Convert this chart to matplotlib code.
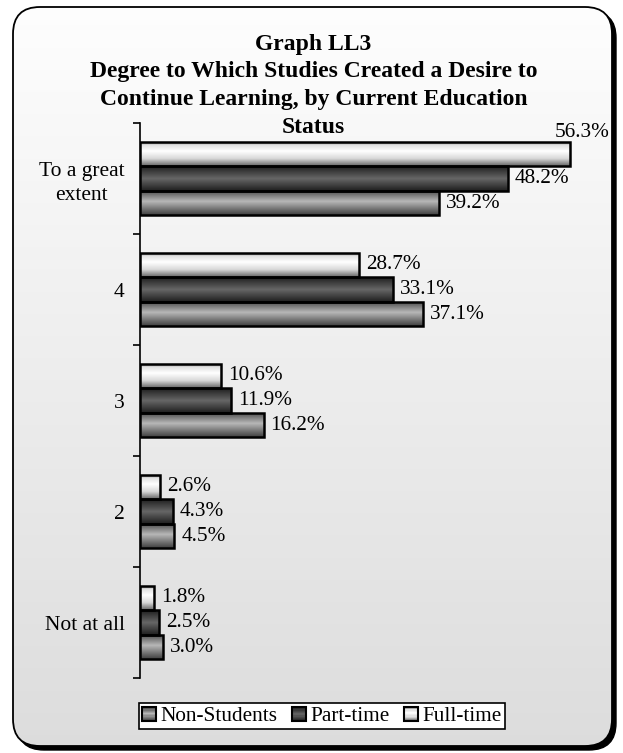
import matplotlib
matplotlib.use("Agg")
import matplotlib.pyplot as plt
import numpy as np
from matplotlib.patches import FancyBboxPatch, Rectangle

plt.rcParams['font.family'] = ['Liberation Serif', 'DejaVu Serif']

# data (bottom to top)
categories = ["Not at all", "2", "3", "4", "To a great\nextent"]
full_time = [1.8, 2.6, 10.6, 28.7, 56.3]
part_time = [2.5, 4.3, 11.9, 33.1, 48.2]
non_students = [3.0, 4.5, 16.2, 37.1, 39.2]
title = ("Graph LL3\nDegree to Which Studies Created a Desire to\n"
         "Continue Learning, by Current Education\nStatus")

# gray profiles for the cylinder shading: (t from bottom, gray level)
prof_full = ([0, 0.3, 0.6, 0.85, 1], [0.40, 0.85, 1.0, 0.88, 0.35])
prof_part = ([0, 0.5, 1], [0.12, 0.40, 0.12])
prof_non = ([0, 0.55, 1], [0.25, 0.72, 0.28])


def grad_img(prof, n=64):
    t = np.linspace(0, 1, n)
    g = np.interp(t, prof[0], prof[1])
    return np.repeat(g[:, None, None], 3, axis=2) * np.ones((n, 2, 3))


class GradHandler:
    def __init__(self, prof):
        self.prof = prof

    def legend_artist(self, legend, orig_handle, fontsize, handlebox):
        x0, y0 = handlebox.xdescent, handlebox.ydescent
        w, h = handlebox.width, handlebox.height
        n = 12
        t = np.linspace(0, 1, n)
        g = np.interp(t, self.prof[0], self.prof[1])
        tr = handlebox.get_transform()
        for i in range(n):
            r = Rectangle((x0, y0 + i * h / n), w, h / n + 0.3, facecolor=(g[i],) * 3,
                          edgecolor='none', transform=tr)
            handlebox.add_artist(r)
        border = Rectangle((x0, y0), w, h, facecolor='none', edgecolor='black',
                           linewidth=1.5, transform=tr)
        handlebox.add_artist(border)
        return border


fig = plt.figure(figsize=(6.23, 7.53), dpi=100)
fig.patch.set_facecolor('white')

# background rounded panel with gradient
bg = fig.add_axes([0, 0, 1, 1], zorder=-1)
bg.set_xlim(0, 623)
bg.set_ylim(0, 753)
bg.axis('off')
shadow = FancyBboxPatch((17, 3), 599, 739, boxstyle="round,pad=0,rounding_size=27",
                        facecolor='black', edgecolor='black', linewidth=1)
bg.add_patch(shadow)
panel = FancyBboxPatch((13, 7), 599, 739, boxstyle="round,pad=0,rounding_size=27",
                       facecolor='none', edgecolor='black', linewidth=1.3, zorder=3)
bg.add_patch(panel)
gy = np.linspace(0.865, 0.995, 200)[:, None]
im = bg.imshow(np.repeat(gy[:, :, None], 3, axis=2) * np.ones((200, 2, 3)),
               extent=[13, 612, 7, 746], origin='lower', aspect='auto', zorder=2)
im.set_clip_path(panel)
bg.set_xlim(0, 623)
bg.set_ylim(0, 753)

ax = fig.add_axes([0.2247, 0.0996, 0.735, 0.737])
ax.patch.set_alpha(0)
y = np.arange(len(categories))
h = 0.222
series = [(full_time, h, prof_full, "Full-time"),
          (part_time, 0, prof_part, "Part-time"),
          (non_students, -h, prof_non, "Non-Students")]

for vals, off, prof, name in series:
    bars = ax.barh(y + off, vals, height=h, facecolor='none', edgecolor='black',
                   linewidth=1.8, zorder=3)
    for b, v in zip(bars, vals):
        x0, y0 = b.get_x(), b.get_y()
        img = ax.imshow(grad_img(prof), extent=[x0, x0 + b.get_width(), y0, y0 + b.get_height()],
                        origin='lower', aspect='auto', zorder=2)
        img.set_clip_path(b)
        if v == max(full_time):
            ax.annotate(f"{v:.1f}%", xy=(v, y0 + b.get_height()), xytext=(-11, 0),
                        textcoords='offset points', ha='left', va='bottom', fontsize=15.3)
        else:
            ax.annotate(f"{v:.1f}%", xy=(v, y0 + b.get_height() / 2), xytext=(5, 0),
                        textcoords='offset points', ha='left', va='center', fontsize=15.3)

ax.set_xlim(0, 60)
ax.set_ylim(-0.5, len(categories) - 0.5)
for s in ['top', 'right', 'bottom']:
    ax.spines[s].set_visible(False)
ax.spines['left'].set_linewidth(1.2)
ax.set_xticks([])
ax.set_yticks(y)
ax.set_yticklabels(categories, fontsize=15.5, multialignment='center')
for lab in ax.get_yticklabels():
    lab.set_linespacing(1.35)
ax.set_yticks(np.arange(len(categories) + 1) - 0.5, minor=True)
ax.tick_params(axis='y', which='major', length=0, pad=11)
ax.tick_params(axis='y', which='minor', length=5, width=1.2, direction='out')

fig.text(0.503, 0.955, title, ha='center', va='top', fontsize=17, fontweight='bold',
         linespacing=1.41)

handles = [Rectangle((0, 0), 1, 1) for _ in range(3)]
leg = fig.legend(handles, ["Non-Students", "Part-time", "Full-time"], loc='center',
                 bbox_to_anchor=(0.517, 0.049), ncol=3, fontsize=15.3, frameon=True,
                 fancybox=False, edgecolor='black', framealpha=1, borderpad=0.15,
                 handlelength=0.65, handleheight=0.65, handletextpad=0.2, columnspacing=0.7,
                 borderaxespad=0,
                 handler_map={handles[0]: GradHandler(prof_non), handles[1]: GradHandler(prof_part),
                              handles[2]: GradHandler(prof_full)})
leg.get_frame().set_linewidth(1.2)

fig.savefig("out.png", dpi=100)
